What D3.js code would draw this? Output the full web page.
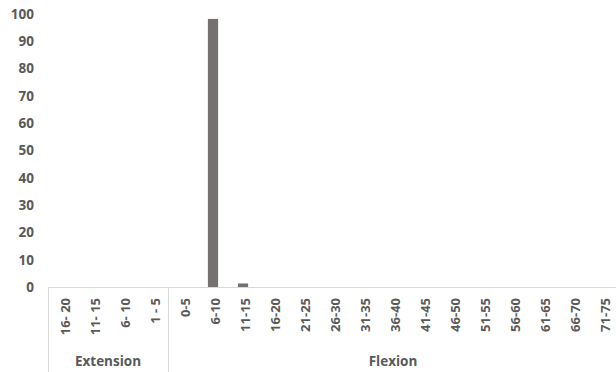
<!DOCTYPE html>
<html>
<head>
<meta charset="utf-8">
<script src="https://cdn.jsdelivr.net/npm/d3@7"></script>
<style>
  body { margin: 0; background: #fff; }
  text { font-family: "Open Sans", sans-serif; font-weight: bold; fill: #595959; }
</style>
</head>
<body>
<svg width="616" height="372"></svg>
<script>
var width = 616;
var height = 372;

// data
var groups = ["Extension", "Flexion"];
var extensionCats = ["16- 20", "11- 15", "6- 10", "1 - 5"];
var flexionCats = ["0-5", "6-10", "11-15", "16-20", "21-25", "26-30", "31-35", "36-40",
                   "41-45", "46-50", "51-55", "56-60", "61-65", "66-70", "71-75"];
var extensionValues = [0, 0, 0, 0];
var flexionValues = [0, 98.2, 1.3, 0, 0, 0, 0, 0, 0, 0, 0, 0, 0, 0, 0];
var yTicks = [0, 10, 20, 30, 40, 50, 60, 70, 80, 90, 100];

var rows = [];
extensionCats.forEach(function(c, i) { rows.push({group: groups[0], cat: c, key: "e" + i, value: extensionValues[i]}); });
flexionCats.forEach(function(c, i) { rows.push({group: groups[1], cat: c, key: "f" + i, value: flexionValues[i]}); });

var svg = d3.select("svg");

var x = d3.scaleBand()
    .domain(rows.map(function(d) { return d.key; }))
    .range([48, 618])
    .paddingInner(0.66)
    .paddingOuter(0.33);

var y = d3.scaleLinear()
    .domain([0, 100])
    .range([287, 14]);

// y labels
svg.append("g").selectAll("text")
    .data(yTicks)
    .enter()
    .append("text")
    .attr("x", 34)
    .attr("y", function(d) { return y(d); })
    .attr("dy", "0.36em")
    .attr("text-anchor", "end")
    .style("font-size", "13.5px")
    .text(function(d) { return d; });

// bars
svg.append("g").selectAll("rect")
    .data(rows)
    .enter()
    .append("rect")
    .attr("x", function(d) { return x(d.key); })
    .attr("width", x.bandwidth())
    .attr("y", function(d) { return y(d.value); })
    .attr("height", function(d) { return y(0) - y(d.value); })
    .attr("fill", "#757171");

// axis line
var step = x.step();
var x0 = x.range()[0];
svg.append("line")
    .attr("x1", x0).attr("x2", width)
    .attr("y1", y(0) + 0.5).attr("y2", y(0) + 0.5)
    .attr("stroke", "#d9d9d9");

// group separators
var seps = [0, extensionCats.length];
svg.append("g").selectAll("line")
    .data(seps)
    .enter()
    .append("line")
    .attr("x1", function(d) { return Math.round(x0 + d * step) + 0.5; })
    .attr("x2", function(d) { return Math.round(x0 + d * step) + 0.5; })
    .attr("y1", y(0)).attr("y2", height)
    .attr("stroke", "#d9d9d9");

// category labels
svg.append("g").selectAll("text")
    .data(rows)
    .enter()
    .append("text")
    .attr("transform", function(d) {
        return "translate(" + (x(d.key) + x.bandwidth() / 2 + 6.5) + "," + 298 + ") rotate(-90)";
    })
    .attr("text-anchor", "end")
    .style("font-size", "13px")
    .text(function(d) { return d.cat; });

// group labels
var counts = [extensionCats.length, flexionCats.length];
svg.append("g").selectAll("text")
    .data(groups)
    .enter()
    .append("text")
    .attr("x", function(d, i) {
        var start = i === 0 ? 0 : counts[0];
        return x0 + (start + counts[i] / 2) * step;
    })
    .attr("y", 366)
    .attr("text-anchor", "middle")
    .style("font-size", "13.5px")
    .text(function(d) { return d; });
</script>
</body>
</html>
